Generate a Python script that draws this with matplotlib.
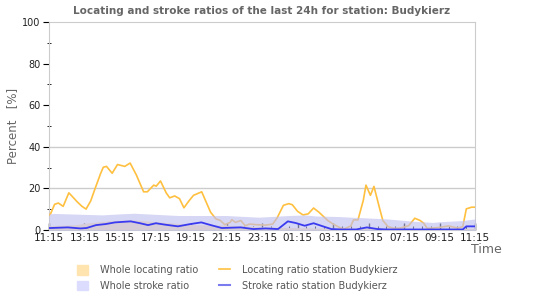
import matplotlib
matplotlib.use("Agg")
import matplotlib.pyplot as plt
from matplotlib.patches import Patch
from matplotlib.lines import Line2D

# hours after 11:15 and ratio in percent
loc_hours = [0.0, 0.1, 0.32, 0.53, 0.8, 1.12, 1.33, 1.6, 1.86, 2.09, 2.35, 2.6, 2.9,
             3.06, 3.24, 3.56, 3.86, 4.27, 4.57, 4.92, 5.33, 5.54, 5.9, 6.04, 6.28,
             6.6, 6.8, 7.08, 7.35, 7.6, 7.88, 8.14, 8.6, 8.85, 9.1, 9.4, 9.65, 9.9,
             10.2, 10.3, 10.5, 10.8, 11.05, 11.3, 11.7, 12.2, 12.6, 12.85, 13.2, 13.5,
             13.7, 14.0, 14.3, 14.6, 14.9, 15.2, 15.7, 16.0, 16.35, 16.6, 17.0, 17.15,
             17.4, 17.7, 17.85, 18.1, 18.3, 18.6, 18.8, 19.1, 19.45, 19.8, 20.25, 20.6,
             20.9, 21.1, 21.3, 22.0, 22.5, 23.0, 23.3, 23.5, 23.8, 24.0]
loc_station = [7, 8, 12.4, 13, 11.4, 17.9, 16, 13.5, 11.4, 10.1, 14, 20, 27,
               30.2, 30.6, 27.3, 31.5, 30.6, 32.2, 26.5, 18.4, 18.4, 21.6, 21.1, 23.6,
               17.9, 15.5, 16.4, 15.1, 10.7, 14, 16.7, 18.4, 13.5, 8.6, 5.4, 4.6, 2.6,
               3.7, 5, 3.7, 4.6, 2.1, 2.9, 2.6, 2.4, 2.9, 5.9, 11.9, 12.7,
               12.2, 9, 7.3, 7.8, 10.6, 8.6, 4.6, 2.9, 1.3, 0.5, 2, 4.9,
               4.9, 14.3, 21.6, 16.7, 21, 11, 4.6, 1.6, 0.8, 1, 2.1, 5.7,
               4.6, 3.3, 0.8, 1.3, 2, 1, 1.6, 10.2, 11, 11]

stroke_hours = [0.0, 0.09, 1.06, 1.77, 2.12, 2.65, 3.19, 3.72, 4.6, 5.13, 5.58, 6.02,
                6.55, 7.26, 7.96, 8.58, 9.03, 9.73, 10.8, 11.5, 12.2, 12.9, 13.45,
                13.9, 14.4, 14.9, 15.5, 15.9, 16.5, 17.3, 17.9, 18.5, 19.0, 23.3,
                23.5, 24.0]
stroke_station = [1, 1, 1.3, 0.8, 1, 2.4, 2.9, 3.7, 4.2, 3.3, 2.4, 3.3,
                  2.6, 1.8, 2.9, 3.7, 2.6, 1, 1.3, 0.5, 0.8, 0.5, 4.2,
                  3.4, 2.1, 3.3, 1.6, 0.5, 0.3, 0.3, 1.3, 0.5, 0.3, 0.3,
                  1.8, 1.8]

whole_stroke_hours = [0, 0.3, 3.0, 4.0, 4.8, 7.3, 10, 11.8, 13.5, 14.4, 15, 16.35,
                      17, 19, 20.6, 21.6, 22, 23.3, 24]
whole_stroke = [7.8, 8, 7.3, 7.8, 8.1, 7, 7, 6.2, 7, 7.3, 6.8, 6.5,
                6.2, 5.4, 4.2, 3.7, 4, 4.6, 5.4]

whole_loc_hours = [0, 1.5, 2.0, 3.4, 4.8, 6.5, 8.2, 10.0, 11.7, 13.5, 15, 20, 24]
whole_loc = [2.1, 2.6, 3.3, 4.5, 4.9, 3.7, 2.6, 2.4, 1.6, 1.3, 1.0, 0.8, 0.8]

tick_labels = ["11:15", "13:15", "15:15", "17:15", "19:15", "21:15", "23:15",
               "01:15", "03:15", "05:15", "07:15", "09:15", "11:15"]

fig = plt.figure(figsize=(5.5, 3), dpi=100)
ax = fig.add_axes([0.089, 0.233, 0.775, 0.694])

ax.fill_between(whole_loc_hours, 0, whole_loc, color="#ffe4b0", lw=0, zorder=2)
ax.plot(loc_hours, loc_station, color="#ffc040", lw=1.2, zorder=3)
ax.fill_between(whole_stroke_hours, 0, whole_stroke, color=(190/255, 190/255, 240/255),
                alpha=0.62, lw=0, zorder=4)
ax.plot(stroke_hours, stroke_station, color="#3a3af0", lw=1.3, zorder=5)

ax.set_xlim(0, 24)
ax.set_ylim(0, 100)
ax.set_xticks(range(0, 25, 2))
ax.set_xticklabels(tick_labels)
ax.set_xticks([i * 0.5 for i in range(49)], minor=True)
ax.set_yticks(range(0, 101, 20))
ax.set_yticks(range(10, 100, 20), minor=True)
ax.tick_params(axis="x", which="major", direction="in", length=5, width=1,
               labelsize=7.5, pad=2, colors="black")
ax.tick_params(axis="x", which="minor", direction="in", length=3, width=0.8)
ax.tick_params(axis="y", which="major", direction="out", length=4, labelsize=7, pad=2)
ax.tick_params(axis="y", which="minor", direction="inout", length=3)
for lbl in ax.get_xticklabels() + ax.get_yticklabels():
    lbl.set_color("#222222")
# the reference only shows grid lines at 20 and 40
for g in (20, 40):
    ax.axhline(g, color="#cccccc", lw=1, zorder=1)
for sp in ax.spines.values():
    sp.set_color("#cccccc")

fig.text(0.476, 0.965, "Locating and stroke ratios of the last 24h for station: Budykierz",
         ha="center", va="center", fontsize=7.5, fontweight="bold", color="#666666")
fig.text(0.022, 0.58, "Percent   [%]", rotation=90, ha="center", va="center",
         fontsize=8.5, color="#666666")
fig.text(0.884, 0.168, "Time", ha="center", va="center", fontsize=9, color="#666666")

handles = [Patch(color="#ffe4b0"), Patch(color="#dcdcff"),
           Line2D([], [], color="#ffc040", lw=1.2), Line2D([], [], color="#7b7bf0", lw=1.5)]
labels = ["Whole locating ratio", "Whole stroke ratio",
          "Locating ratio station Budykierz", "Stroke ratio station Budykierz"]
leg = fig.legend(handles, labels, ncol=2, loc="upper left", bbox_to_anchor=(0.124, 0.145),
                 frameon=False, fontsize=7, handlelength=1.1, handleheight=1.1,
                 columnspacing=2.1, labelspacing=0.6, handletextpad=1.3)
for t in leg.get_texts():
    t.set_color("#555555")

fig.savefig("out.png", dpi=100)
